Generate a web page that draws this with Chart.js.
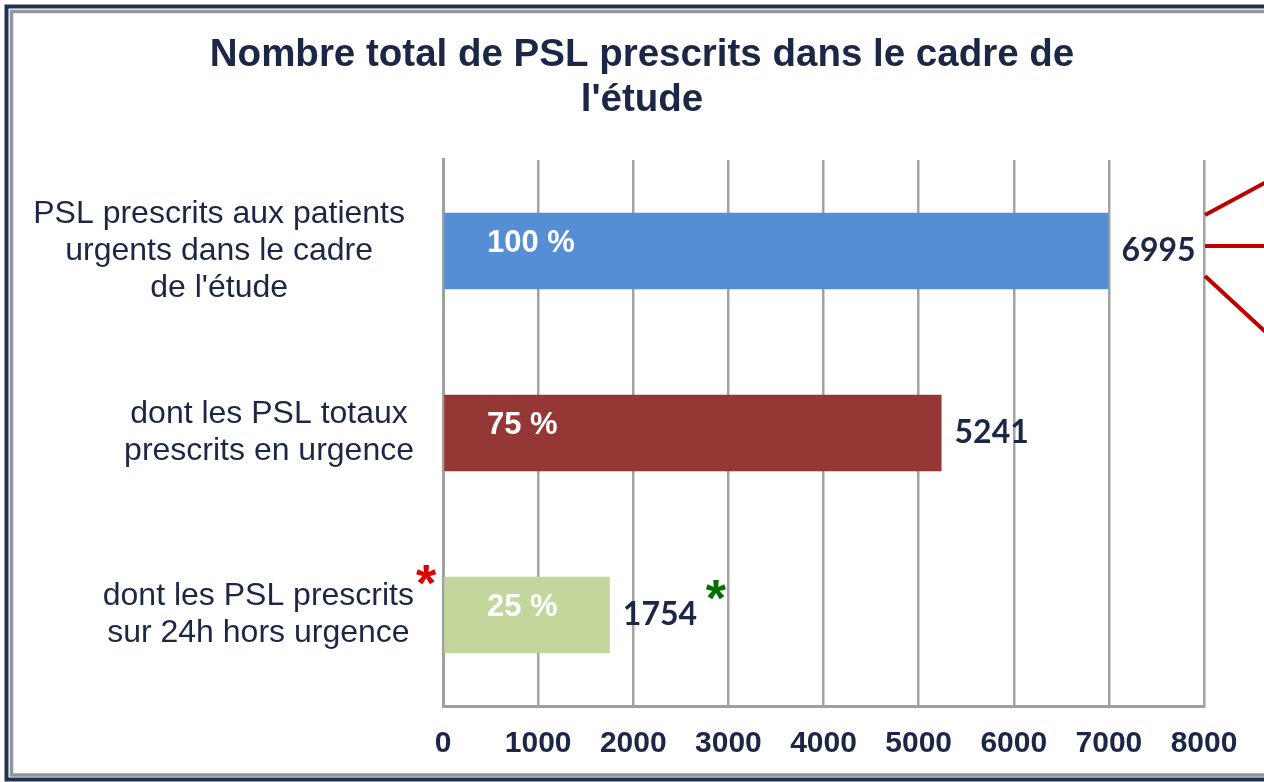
<!DOCTYPE html>
<html>
<head>
<meta charset="utf-8">
<script src="https://cdn.jsdelivr.net/npm/chart.js@4.4.1/dist/chart.umd.min.js"></script>
<style>
  html, body { margin: 0; padding: 0; background: #ffffff; }
  #wrap { width: 1264px; height: 782px; position: relative; }
</style>
</head>
<body>
<div id="wrap"><canvas id="c" width="1264" height="782"></canvas></div>
<script>
const titleLines = ["Nombre total de PSL prescrits dans le cadre de", "l'étude"];
const categories = [
  ["PSL prescrits aux patients", "urgents dans le cadre", "de l'étude"],
  ["dont les PSL totaux", "prescrits en urgence"],
  ["dont les PSL prescrits", "sur 24h hors urgence"]
];
const values = [6995, 5241, 1754];
const percentLabels = ["100 %", "75 %", "25 %"];
const barColors = ["#558ED5", "#953735", "#C3D69B"];
const xTickValues = [0, 1000, 2000, 3000, 4000, 5000, 6000, 7000, 8000];
const xTickLabels = ["0", "1000", "2000", "3000", "4000", "5000", "6000", "7000", "8000"];

const TEXT_DARK = "#1B2744";

const decorPlugin = {
  id: 'decor',
  beforeDraw(chart) {
    const ctx = chart.ctx;
    ctx.save();
    ctx.fillStyle = '#ffffff';
    ctx.fillRect(0, 0, chart.width, chart.height);
    ctx.lineWidth = 4;
    ctx.strokeStyle = '#1F3350';
    ctx.beginPath();
    ctx.moveTo(1300, 6.5); ctx.lineTo(6.5, 6.5); ctx.lineTo(6.5, 779.5); ctx.lineTo(1300, 779.5);
    ctx.stroke();
    ctx.lineWidth = 3.5;
    ctx.strokeStyle = '#9096A0';
    ctx.beginPath();
    ctx.moveTo(1300, 11.5); ctx.lineTo(11.5, 11.5); ctx.lineTo(11.5, 775); ctx.lineTo(1300, 775);
    ctx.stroke();
    ctx.restore();
  },
  afterDatasetsDraw(chart) {
    const ctx = chart.ctx;
    const xs = chart.scales.x, ys = chart.scales.y;
    const meta = chart.getDatasetMeta(0);
    ctx.save();
    ctx.font = '32px "Liberation Sans", Arial, sans-serif';
    ctx.fillStyle = TEXT_DARK;
    ctx.textBaseline = 'middle';
    ctx.textAlign = 'center';
    const blockRight = chart.chartArea.left - 29;
    const lineH = 37;
    categories.forEach((lines, i) => {
      const yc = ys.getPixelForValue(i);
      const w = Math.max(...lines.map(l => ctx.measureText(l).width));
      const cx = (i === 0 ? blockRight - 9 : blockRight) - w / 2;
      lines.forEach((l, j) => {
        ctx.fillText(l, cx, yc + (j - (lines.length - 1) / 2) * lineH);
      });
    });
    ctx.font = 'bold 31px "Liberation Sans", Arial, sans-serif';
    ctx.fillStyle = '#ffffff';
    ctx.textAlign = 'left';
    meta.data.forEach((bar, i) => {
      ctx.fillText(percentLabels[i], xs.getPixelForValue(0) + 44, bar.y - 8);
    });
    ctx.font = 'bold 32px Lato, "Open Sans", sans-serif';
    ctx.fillStyle = TEXT_DARK;
    meta.data.forEach((bar, i) => {
      ctx.fillText(String(values[i]), bar.x + 13, bar.y);
    });
    ctx.font = 'bold 52px "Liberation Sans", Arial, sans-serif';
    ctx.textAlign = 'center';
    ctx.fillStyle = '#E00000';
    const b3 = meta.data[2];
    ctx.fillText('*', chart.chartArea.left - 17, b3.y - 28);
    ctx.fillStyle = '#007000';
    ctx.fillText('*', b3.x + 106, b3.y - 13);
    const b1 = meta.data[0];
    const rx = xs.getPixelForValue(8000) + 1;
    ctx.strokeStyle = '#C00000';
    ctx.lineWidth = 4;
    ctx.beginPath();
    ctx.moveTo(rx, b1.y - 36); ctx.lineTo(1270, b1.y - 71);
    ctx.moveTo(rx, b1.y - 5); ctx.lineTo(1270, b1.y - 5);
    ctx.moveTo(rx, b1.y + 25); ctx.lineTo(1270, b1.y + 85);
    ctx.stroke();
    ctx.restore();
  }
};

new Chart(document.getElementById('c'), {
  type: 'bar',
  data: {
    labels: categories,
    datasets: [{
      data: values,
      backgroundColor: barColors,
      borderWidth: 0,
      categoryPercentage: 1,
      barPercentage: 0.42
    }]
  },
  plugins: [decorPlugin],
  options: {
    indexAxis: 'y',
    responsive: false,
    animation: false,
    devicePixelRatio: 1,
    layout: { padding: { left: 20, right: 0, top: 20, bottom: 1 } },
    plugins: {
      legend: { display: false },
      tooltip: { enabled: false },
      title: {
        display: true,
        text: titleLines,
        color: TEXT_DARK,
        font: { family: '"Liberation Sans", Arial, sans-serif', size: 38.5, weight: 'bold', lineHeight: 1.17 },
        padding: { top: 12.5, bottom: 37.4 }
      }
    },
    scales: {
      x: {
        min: 0,
        max: 8000,
        afterBuildTicks(scale) { scale.ticks = xTickValues.map(v => ({ value: v })); },
        afterFit(scale) { scale.paddingRight = 60; },
        ticks: {
          color: TEXT_DARK,
          font: { family: '"Liberation Sans", Arial, sans-serif', size: 30, weight: 'bold', lineHeight: 1.1 },
          padding: 21,
          maxRotation: 0,
          autoSkip: false,
          callback: (v, i) => xTickLabels[i]
        },
        grid: { color: '#A3A3A3', lineWidth: 2.5, drawTicks: false },
        border: { display: true, color: '#A0A0A0', width: 3 }
      },
      y: {
        afterFit(scale) { scale.width = 423; },
        ticks: { display: false },
        grid: { display: false, drawTicks: false },
        border: { display: true, color: '#A0A0A0', width: 3 }
      }
    }
  }
});
</script>
</body>
</html>
